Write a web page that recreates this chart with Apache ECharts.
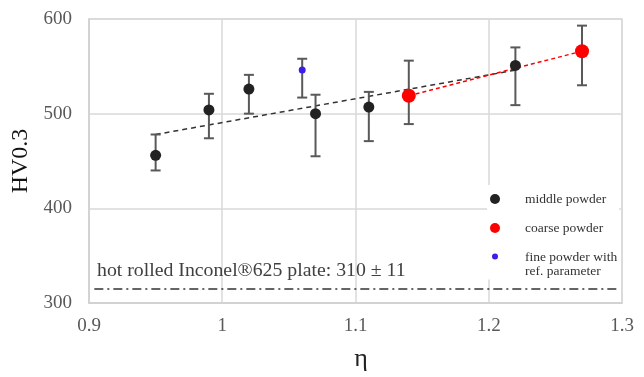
<!DOCTYPE html>
<html>
<head>
<meta charset="utf-8">
<script src="https://cdn.jsdelivr.net/npm/echarts@6/dist/echarts.min.js"></script>
<style>html,body{margin:0;padding:0;background:#fff}#c{width:644px;height:377px}</style>
</head>
<body>
<div id="c"></div>
<script>
const xTicks = [0.9, 1.3, 0.1];
const yTicks = [300, 600, 100];

const middleX = [0.95, 0.99, 1.02, 1.07, 1.11, 1.22];
const middleY = [456, 504, 526, 500, 507, 551];
const middleLow = [440, 474, 500, 455, 471, 509];
const middleHigh = [478, 521, 541, 520, 523, 570];

const coarseX = [1.14, 1.27];
const coarseY = [519, 566];
const coarseLow = [489, 530];
const coarseHigh = [556, 593];

const fineX = [1.06];
const fineY = [546];
const fineLow = [517];
const fineHigh = [558];

const middleTrendX = [0.95, 1.22];
const middleTrendY = [478, 546];
const coarseTrendX = [1.14, 1.27];
const coarseTrendY = [519, 566];

const refValue = 315;
const refSpan = [0.904, 1.297];
const refText = 'hot rolled Inconel\u00AE625 plate: 310 \u00B1 11';

const seriesNames = ['middle powder', 'coarse powder', 'fine powder with\nref. parameter'];

const serif = '"Liberation Serif","DejaVu Serif",serif';
const zip = (a, b) => a.map((v, i) => [v, b[i]]);
const errData = [].concat(
  middleX.map((x, i) => [x, middleLow[i], middleHigh[i]]),
  coarseX.map((x, i) => [x, coarseLow[i], coarseHigh[i]]),
  fineX.map((x, i) => [x, fineLow[i], fineHigh[i]])
);
// small dot near the top of a tall icon box, so it lines up with the first text line
const fineIcon = 'path://M0,0M10,30M8,7A3,3 0 1 1 2,7A3,3 0 1 1 8,7Z';

const chart = echarts.init(document.getElementById('c'));
chart.setOption({
  animation: false,
  backgroundColor: '#fff',
  grid: { left: 89, width: 533, top: 19, height: 287, show: true, borderColor: '#d9d9d9', borderWidth: 1.5 },
  xAxis: {
    type: 'value', min: xTicks[0], max: xTicks[1], interval: xTicks[2],
    axisLine: { show: true, lineStyle: { color: '#d0d0d0', width: 1.5 } },
    axisTick: { show: false },
    splitLine: { show: true, lineStyle: { color: '#d9d9d9', width: 1.5 } },
    axisLabel: { color: '#595959', fontFamily: serif, fontSize: 19, margin: 14,
      formatter: v => String(Math.round(v * 10) / 10) },
    name: '\u03B7', nameLocation: 'middle', nameGap: 43,
    nameTextStyle: { color: '#222', fontFamily: serif, fontSize: 26, padding: [0, 0, 0, 11] }
  },
  yAxis: {
    type: 'value', min: yTicks[0], max: yTicks[1], interval: yTicks[2],
    axisLine: { show: true, lineStyle: { color: '#d0d0d0', width: 1.5 } },
    axisTick: { show: false },
    splitLine: { show: true, lineStyle: { color: '#d9d9d9', width: 1.5 } },
    axisLabel: { color: '#595959', fontFamily: serif, fontSize: 19, margin: 17 },
    name: 'HV0.3', nameLocation: 'middle', nameGap: 51, nameRotate: 90,
    nameTextStyle: { color: '#111', fontFamily: serif, fontSize: 24 }
  },
  legend: {
    orient: 'vertical', left: 487, top: 185,
    backgroundColor: '#fff',
    padding: [6.5, 2, 0, 3],
    itemWidth: 10, itemHeight: 30, itemGap: 14,
    icon: 'circle',
    textStyle: { fontFamily: serif, fontSize: 13.5, color: '#333', lineHeight: 15, padding: [0, 0, 0, 20] },
    data: [
      { name: seriesNames[0] },
      { name: seriesNames[1] },
      { name: seriesNames[2], icon: fineIcon, itemStyle: { color: '#3b1fe6' },
        textStyle: { lineHeight: 14 } }
    ]
  },
  graphic: [{
    type: 'text', left: 97, top: 261, z: 50,
    style: { text: refText, fontFamily: serif, fontSize: 19.8, fill: '#404040' }
  }],
  series: [
    {
      type: 'line', name: 'trendMiddle', data: zip(middleTrendX, middleTrendY), symbol: 'none',
      lineStyle: { color: '#333', width: 1.5, type: [5, 4] }, z: 3, silent: true
    },
    {
      type: 'line', name: 'trendCoarse', data: zip(coarseTrendX, coarseTrendY), symbol: 'none',
      lineStyle: { color: '#ff0000', width: 1.5, type: [4, 3] }, z: 3, silent: true
    },
    {
      type: 'custom', name: 'errors', data: errData, z: 4, silent: true,
      renderItem: (params, api) => {
        const x = api.value(0);
        const lo = api.coord([x, api.value(1)]);
        const hi = api.coord([x, api.value(2)]);
        const w = 5;
        const st = { stroke: '#595959', lineWidth: 2 };
        return {
          type: 'group', children: [
            { type: 'line', shape: { x1: lo[0], y1: lo[1], x2: hi[0], y2: hi[1] }, style: st },
            { type: 'line', shape: { x1: lo[0] - w, y1: lo[1], x2: lo[0] + w, y2: lo[1] }, style: st },
            { type: 'line', shape: { x1: hi[0] - w, y1: hi[1], x2: hi[0] + w, y2: hi[1] }, style: st }
          ]
        };
      },
      markLine: {
        silent: true, symbol: 'none', label: { show: false },
        lineStyle: { color: '#333', width: 1.5, type: [9, 4, 2, 4] },
        data: [[{ coord: [refSpan[0], refValue] }, { coord: [refSpan[1], refValue] }]]
      }
    },
    {
      type: 'scatter', name: seriesNames[0], data: zip(middleX, middleY), symbolSize: 11, z: 5,
      itemStyle: { color: '#222', opacity: 1 }
    },
    {
      type: 'scatter', name: seriesNames[1], data: zip(coarseX, coarseY), symbolSize: 14, z: 5,
      itemStyle: { color: '#ff0000', opacity: 1 }
    },
    {
      type: 'scatter', name: seriesNames[2], data: zip(fineX, fineY), symbolSize: 7, z: 5,
      itemStyle: { color: '#3b1fe6', opacity: 1 }
    }
  ]
});
</script>
</body>
</html>
